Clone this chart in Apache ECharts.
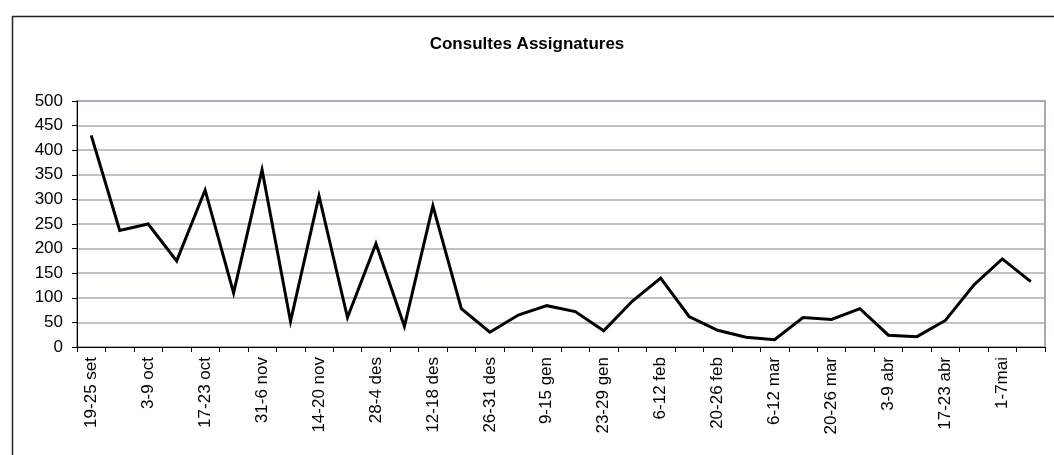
<!DOCTYPE html>
<html>
<head>
<meta charset="utf-8">
<script src="https://cdn.jsdelivr.net/npm/echarts@6/dist/echarts.min.js"></script>
<style>
html,body{margin:0;padding:0;background:#fff;}
#c{width:1054px;height:455px;}
</style>
</head>
<body>
<div id="c"></div>
<script>
const categories = ['19-25 set','26-2 oct','3-9 oct','10-16 oct','17-23 oct','24-30 oct','31-6 nov','7-13 nov','14-20 nov','21-27 nov','28-4 des','5-11 des','12-18 des','19-25 des','26-31 des','1-8 gen','9-15 gen','16-22 gen','23-29 gen','30-5 feb','6-12 feb','13-19 feb','20-26 feb','27-5 mar','6-12 mar','13-19 mar','20-26 mar','27-2 abr','3-9 abr','10-16 abr','17-23 abr','24-30 abr','1-7mai','8-14 mai'];
const consultes = [430,237,250,175,319,110,360,52,307,60,210,42,287,78,30,65,84,72,33,93,140,62,34,20,15,60,56,78,24,21,54,126,179,133];
const yTicks = {min:0, max:500, interval:50};
const titleText = 'Consultes Assignatures';

const chart = echarts.init(document.getElementById('c'), null, {renderer:'canvas'});
chart.setOption({
  animation:false,
  backgroundColor:'#fff',
  title:{text:titleText,left:'center',top:31,textStyle:{fontFamily:'Liberation Sans',fontSize:17,fontWeight:'bold',color:'#000'}},
  graphic:[{type:'rect',left:10,top:14,shape:{width:1070,height:470},style:{fill:'none',stroke:'#222',lineWidth:1.5},silent:true,z:-1}],
  grid:{left:77,right:9,top:101,bottom:108,show:true,borderColor:'#8c909c',borderWidth:1.5,backgroundColor:'transparent'},
  xAxis:{type:'category',data:categories,boundaryGap:true,
    axisLine:{lineStyle:{color:'#000',width:1}},
    axisTick:{show:true,interval:0,length:5,inside:false,lineStyle:{color:'#000'}},
    axisLabel:{interval:1,rotate:90,margin:10,fontFamily:'Liberation Sans',fontSize:17,color:'#000'},
    splitLine:{show:false}},
  yAxis:{type:'value',min:yTicks.min,max:yTicks.max,interval:yTicks.interval,
    axisLine:{show:true,lineStyle:{color:'#000',width:1}},
    axisTick:{show:true,length:5,lineStyle:{color:'#000'}},
    axisLabel:{margin:14,fontFamily:'Liberation Sans',fontSize:17,color:'#000'},
    splitLine:{show:true,lineStyle:{color:'#a8adb8',width:1.5}}},
  series:[{type:'line',data:consultes,showSymbol:false,symbol:'none',
    lineStyle:{color:'#000',width:3,join:'miter',miterLimit:10}}]
});
</script>
</body>
</html>
